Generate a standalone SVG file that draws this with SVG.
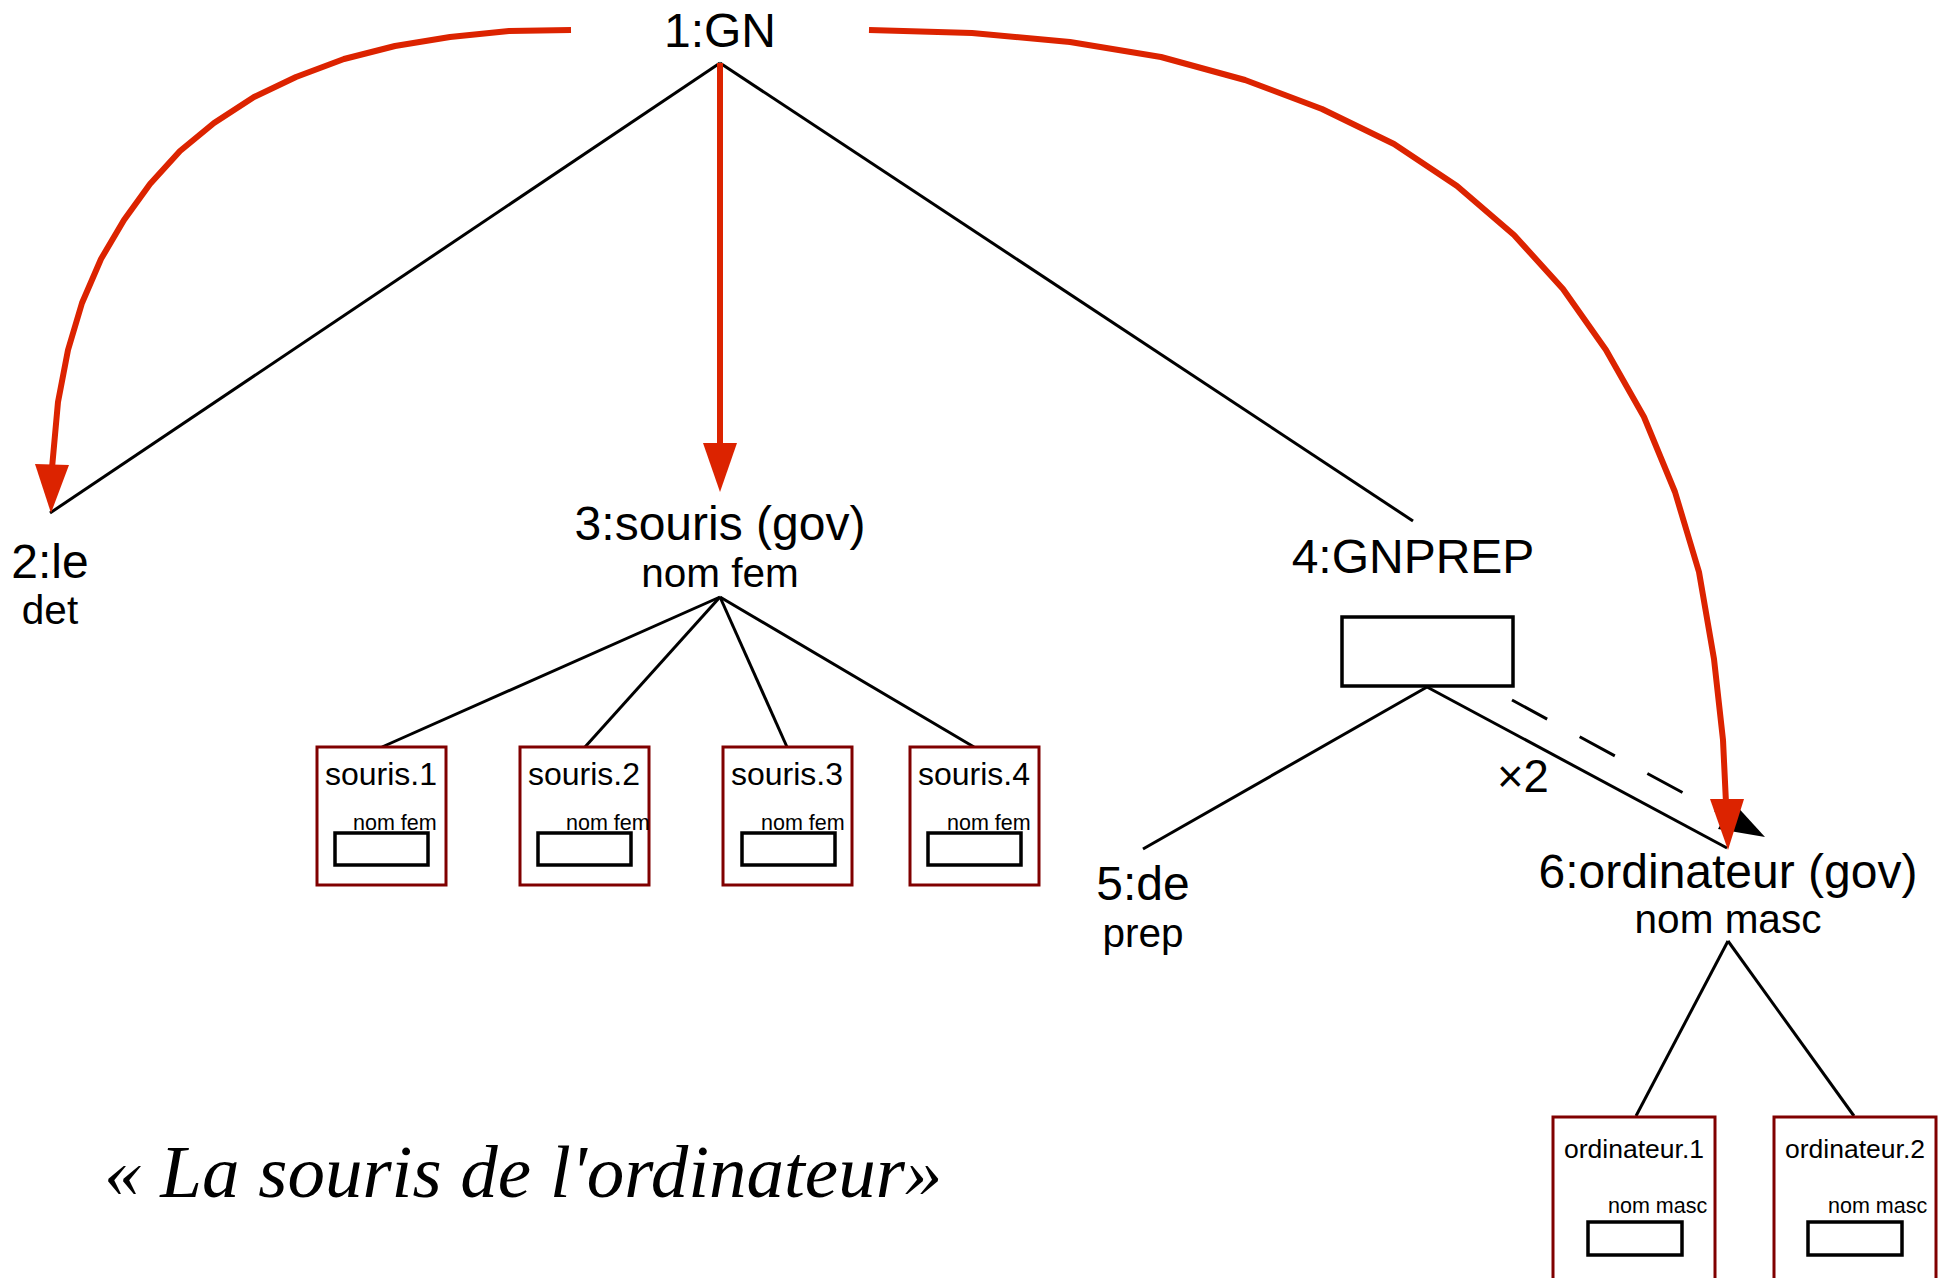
<svg xmlns="http://www.w3.org/2000/svg" width="1943" height="1278" viewBox="0 0 1943 1278">
<style>
.lbl{font-family:"Liberation Sans",Arial,sans-serif;font-size:48px;fill:#000;text-anchor:middle}
.sub{font-family:"Liberation Sans",Arial,sans-serif;font-size:40.5px;fill:#000;text-anchor:middle}
.btxt{font-family:"Liberation Sans",Arial,sans-serif;font-size:32px;fill:#000;text-anchor:middle}
.otxt{font-family:"Liberation Sans",Arial,sans-serif;font-size:26.5px;fill:#000;text-anchor:middle}
.small{font-family:"Liberation Sans",Arial,sans-serif;font-size:21.5px;fill:#000}
.edge{stroke:#000;stroke-width:3;fill:none}
.red{stroke:#dc2300;stroke-width:6;fill:none;stroke-linejoin:round}
.redhead{fill:#dc2300}
.box{fill:#fff;stroke:#800000;stroke-width:3}
.inner{fill:#fff;stroke:#000;stroke-width:3.5}
</style>
<rect width="1943" height="1278" fill="#fff"/>
<g id="connectors">
  <line class="edge" x1="720" y1="63" x2="50" y2="513"/>
  <line class="edge" x1="720" y1="63" x2="1413" y2="521"/>
  <line class="edge" x1="720" y1="597" x2="382" y2="747"/>
  <line class="edge" x1="720" y1="597" x2="585" y2="747"/>
  <line class="edge" x1="720" y1="597" x2="787" y2="747"/>
  <line class="edge" x1="720" y1="597" x2="974" y2="747"/>
  <line class="edge" x1="1427" y1="687" x2="1143" y2="849"/>
  <line class="edge" x1="1427" y1="687" x2="1727" y2="848"/>
  <line class="edge" x1="1728" y1="941" x2="1636" y2="1116"/>
  <line class="edge" x1="1728" y1="941" x2="1854" y2="1116"/>
  <line x1="1512" y1="700" x2="1722" y2="814" stroke="#000" stroke-width="3" stroke-dasharray="40 37"/>
  <polygon points="1765,837 1718,829 1733,802" fill="#000"/>
  <text x="1497" y="792" font-family="Liberation Sans, Arial, sans-serif" font-size="45.5">×2</text>
  <polyline class="red" points="571,30 509,31 450,37 395,46 344,59 296,77 254,97 214,123 180,151 150,184 124,220 101,259 82,303 68,350 58,402 53,457 52,468"/>
  <polygon class="redhead" points="51,513 35,464 69,465"/>
  <line class="red" x1="720" y1="63" x2="720" y2="446"/>
  <polygon class="redhead" points="720,492 703,443 737,443"/>
  <polyline class="red" points="869,30 972,33 1070,42 1161,57 1245,80 1322,109 1394,144 1457,186 1514,235 1563,289 1606,350 1644,417 1675,492 1699,572 1714,659 1723,740 1726,803"/>
  <polygon class="redhead" points="1728,850 1710,799 1744,799"/>
</g>
<g id="n1"><text class="lbl" x="720" y="47">1:GN</text></g>
<g id="n2"><text class="lbl" x="50" y="578">2:le</text><text class="sub" x="50" y="624">det</text></g>
<g id="n3"><text class="lbl" x="720" y="540">3:souris (gov)</text><text class="sub" x="720" y="587">nom fem</text></g>
<g id="n4"><text class="lbl" x="1413" y="573">4:GNPREP</text><rect x="1342" y="617" width="171" height="69" fill="#fff" stroke="#000" stroke-width="3.5"/></g>
<g id="n5"><text class="lbl" x="1143" y="900">5:de</text><text class="sub" x="1143" y="947">prep</text></g>
<g id="n6"><text class="lbl" x="1728" y="888">6:ordinateur (gov)</text><text class="sub" x="1728" y="933">nom masc</text></g>
<g id="s1"><rect class="box" x="317" y="747" width="129" height="138"/><text class="btxt" x="381" y="785">souris.1</text><text class="small" x="353" y="830">nom fem</text><rect class="inner" x="335" y="833" width="93" height="32"/></g>
<g id="s2"><rect class="box" x="520" y="747" width="129" height="138"/><text class="btxt" x="584" y="785">souris.2</text><text class="small" x="566" y="830">nom fem</text><rect class="inner" x="538" y="833" width="93" height="32"/></g>
<g id="s3"><rect class="box" x="723" y="747" width="129" height="138"/><text class="btxt" x="787" y="785">souris.3</text><text class="small" x="761" y="830">nom fem</text><rect class="inner" x="742" y="833" width="93" height="32"/></g>
<g id="s4"><rect class="box" x="910" y="747" width="129" height="138"/><text class="btxt" x="974" y="785">souris.4</text><text class="small" x="947" y="830">nom fem</text><rect class="inner" x="928" y="833" width="93" height="32"/></g>
<g id="o1"><rect class="box" x="1553" y="1117" width="162" height="180"/><text class="otxt" x="1634" y="1158">ordinateur.1</text><text class="small" x="1608" y="1213">nom masc</text><rect class="inner" x="1588" y="1222" width="94" height="33"/></g>
<g id="o2"><rect class="box" x="1774" y="1117" width="162" height="180"/><text class="otxt" x="1855" y="1158">ordinateur.2</text><text class="small" x="1828" y="1213">nom masc</text><rect class="inner" x="1808" y="1222" width="94" height="33"/></g>
<g id="caption"><text x="104" y="1197" font-family="Liberation Serif, 'Times New Roman', serif" font-style="italic" font-size="75">« La souris de l'ordinateur»</text></g>
</svg>
